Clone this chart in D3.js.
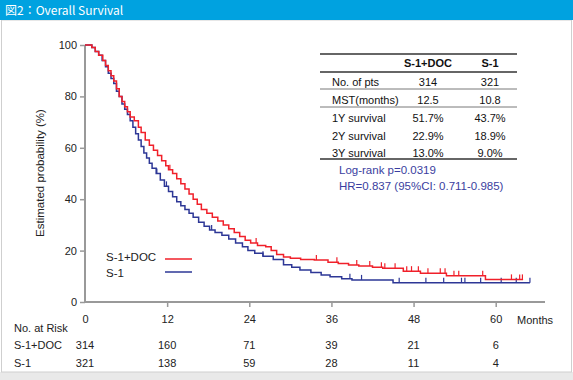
<!DOCTYPE html>
<html>
<head>
<meta charset="utf-8">
<script src="https://cdn.jsdelivr.net/npm/d3@7"></script>
<style>
  body { margin: 0; background: #fff; }
  svg { display: block; font-family: "Liberation Sans", Arial, sans-serif; }
</style>
</head>
<body>
<svg id="chart"></svg>
<script>
// Kaplan-Meier steps: [month, survival %]
var docSteps = [
  [0,100],[1.0,99],[1.5,97.5],[2.0,96],[2.6,94],[3.0,92],[3.4,90],[3.8,88],[4.2,86],
  [4.6,83],[5.0,80],[5.4,78],[5.8,76],[6.2,74],[6.6,72],[7.2,70.5],[7.8,68],[8.2,66],
  [8.8,63],[9.4,61],[10.0,59],[10.6,57],[11.2,55],[11.8,53],[12.2,51.5],[12.8,50],
  [13.4,48],[14.0,46],[14.6,44],[15.2,42],[15.8,40],[16.4,38],[17.0,36],[17.8,34.5],
  [18.6,33],[19.4,31.5],[20.2,30],[21.0,28.5],[21.8,27],[22.6,25.5],[23.4,24],[24.2,23],
  [25.2,22],[26.4,21.5],[27.2,20],[28.0,18.5],[29.0,17.5],[30.0,17],[31.5,16.5],
  [33.5,16.3],[35.5,15.5],[37.0,15],[38.5,14.4],[40.0,14],[42.0,13.5],[43.5,13.1],
  [46.5,12],[49.0,11.2],[52.8,10.2],[58.5,8.8],[64.0,8.8]
];
var s1Steps = [
  [0,100],[1.0,99],[1.5,97.5],[2.0,96],[2.5,94],[3.0,91.5],[3.4,89],[3.8,87],[4.2,85],
  [4.6,82],[5.0,80],[5.4,77],[5.8,75],[6.2,73],[6.6,70.5],[7.0,68],[7.4,65.5],[7.8,63],
  [8.2,60.5],[8.6,58],[9.0,56],[9.4,54],[9.8,52],[10.4,50],[11.0,47.5],[11.6,45],
  [12.2,43],[12.8,41],[13.4,39],[14.0,37.5],[14.6,36],[15.2,34.5],[15.8,33],[16.6,31],
  [17.4,29.5],[18.2,28],[19.0,27],[20.0,26],[21.0,24.5],[22.0,23],[23.0,21.5],[23.8,20],
  [24.8,19],[26.0,17.8],[27.5,16.5],[29.0,14.5],[30.2,13.5],[31.4,12.5],[33.0,11.5],
  [34.5,10.5],[35.8,9.8],[37.5,9],[39.0,8.6],[45.0,7.5],[65.0,7.5]
];
// censored observations (months)
var docCensor = [12.4,25,33.8,36.8,39.7,41.6,43.3,43.8,45.3,47,47.7,48.7,50.1,51.9,52.6,53.9,54.6,58.1,62.3,63.5,63.9];
var s1Censor = [10.5,11.9,18.5,26,38.7,40.4,45.9,49.8,52.4,55,55.5,57.8,60.8,63,65];

var xTicks = [0,12,24,36,48,60];
var yTicks = [0,20,40,60,80,100];

var riskDoc = [314,160,71,39,21,6];
var riskS1 = [321,138,59,28,11,4];

var tableLabels = ["No. of pts","MST(months)","1Y survival","2Y survival","3Y survival"];
var tableDoc = ["314","12.5","51.7%","22.9%","13.0%"];
var tableS1 = ["321","10.8","43.7%","18.9%","9.0%"];

var W = 573, H = 380;
var red = "#f0202a", blue = "#2d3796", grey = "#999";

var svg = d3.select("#chart").attr("width", W).attr("height", H);

// frame + title bar
svg.append("rect").attr("x", 0).attr("y", 372).attr("width", W).attr("height", 8).attr("fill", "#e9e9e9");
svg.append("rect").attr("x", 1.5).attr("y", 20).attr("width", 570).attr("height", 352)
  .attr("fill", "none").attr("stroke", "#cfcfcf");
svg.append("rect").attr("x", 0).attr("y", 0).attr("width", W).attr("height", 20).attr("fill", "#00a2e0");
svg.append("text").attr("x", 5).attr("y", 15).attr("fill", "#fff").attr("font-size", 12)
  .style("font-family", "'Noto Sans CJK JP', 'Liberation Sans', sans-serif")
  .text("図2：Overall Survival");

var x = d3.scaleLinear().domain([0, 67.2]).range([85, 545]);
var y = d3.scaleLinear().domain([0, 100]).range([302, 45]);

// axes
var yAxis = svg.append("g").attr("transform", "translate(" + x(0) + ",0)")
  .call(d3.axisLeft(y).tickValues(yTicks).tickSize(5).tickPadding(3));
var xAxis = svg.append("g").attr("transform", "translate(0," + y(0) + ")")
  .call(d3.axisBottom(x).tickValues(xTicks).tickSize(5).tickPadding(8));
[xAxis, yAxis].forEach(function(g) {
  g.select(".domain").attr("stroke", grey).attr("stroke-width", 2);
  g.selectAll(".tick line").attr("stroke", grey).attr("stroke-width", 1.5);
  g.selectAll(".tick text").attr("fill", "#222").attr("font-size", 11)
    .style("font-family", "'Liberation Sans', Arial, sans-serif");
});
xAxis.select(".domain").attr("d", "M" + x(0) + ",0H545");
yAxis.select(".domain").attr("d", "M0," + y(0) + "V" + y(100));
xAxis.selectAll(".tick").filter(function(d) { return d === 0; }).select("line").remove();

svg.append("text").attr("x", 517).attr("y", 324).attr("font-size", 11).attr("fill", "#222").text("Months");
svg.append("text").attr("transform", "translate(44," + 173 + ") rotate(-90)")
  .attr("text-anchor", "middle").attr("font-size", 11.5).attr("fill", "#222")
  .text("Estimated probability (%)");

// KM curves
var km = d3.line().x(function(d) { return x(d[0]); }).y(function(d) { return y(d[1]); })
  .curve(d3.curveStepAfter);

function survAt(steps, t) {
  var s = steps[0][1];
  steps.forEach(function(p) { if (p[0] <= t) s = p[1]; });
  return s;
}

function drawCurve(steps, censor, color) {
  svg.append("path").datum(steps).attr("d", km).attr("fill", "none")
    .attr("stroke", color).attr("stroke-width", 1.5);
  svg.selectAll(null).data(censor).enter().append("line")
    .attr("x1", function(d) { return x(d); }).attr("x2", function(d) { return x(d); })
    .attr("y1", function(d) { return y(survAt(steps, d)); })
    .attr("y2", function(d) { return y(survAt(steps, d)) - 5; })
    .attr("stroke", color).attr("stroke-width", 1.2);
}
drawCurve(s1Steps, s1Censor, blue);
drawCurve(docSteps, docCensor, red);

// legend
svg.append("text").attr("x", 106).attr("y", 261).attr("font-size", 11.5).attr("fill", "#222").text("S-1+DOC");
svg.append("text").attr("x", 106).attr("y", 277).attr("font-size", 11.5).attr("fill", "#222").text("S-1");
svg.append("line").attr("x1", 165).attr("x2", 192).attr("y1", 259).attr("y2", 259).attr("stroke", red).attr("stroke-width", 1.5);
svg.append("line").attr("x1", 165).attr("x2", 192).attr("y1", 272).attr("y2", 272).attr("stroke", blue).attr("stroke-width", 1.5);

// summary table
var tb = svg.append("g").attr("font-size", 11).attr("fill", "#111");
var colDoc = 428, colS1 = 490, labX = 332;
[54, 72, 159].forEach(function(ly) {
  tb.append("line").attr("x1", 320).attr("x2", 517).attr("y1", ly).attr("y2", ly)
    .attr("stroke", "#333").attr("stroke-width", 1.3);
});
[89, 107].forEach(function(ly) {
  tb.append("line").attr("x1", 320).attr("x2", 517).attr("y1", ly).attr("y2", ly)
    .attr("stroke", "#555").attr("stroke-width", 0.8);
});
tb.append("text").attr("x", colDoc).attr("y", 67).attr("text-anchor", "middle").attr("font-weight", "bold").text("S-1+DOC");
tb.append("text").attr("x", colS1).attr("y", 67).attr("text-anchor", "middle").attr("font-weight", "bold").text("S-1");
var rowY = [85.5, 104, 122, 140, 157];
tableLabels.forEach(function(lab, i) {
  tb.append("text").attr("x", labX).attr("y", rowY[i]).text(lab);
  tb.append("text").attr("x", colDoc).attr("y", rowY[i]).attr("text-anchor", "middle").text(tableDoc[i]);
  tb.append("text").attr("x", colS1).attr("y", rowY[i]).attr("text-anchor", "middle").text(tableS1[i]);
});
svg.append("text").attr("x", 339).attr("y", 173.5).attr("font-size", 11.5).attr("fill", "#3a3ea0").text("Log-rank p=0.0319");
svg.append("text").attr("x", 339).attr("y", 190).attr("font-size", 11.5).attr("fill", "#3a3ea0").text("HR=0.837 (95%CI: 0.711-0.985)");

// number at risk
var rk = svg.append("g").attr("font-size", 11).attr("fill", "#222");
rk.append("text").attr("x", 14).attr("y", 332).text("No. at Risk");
rk.append("text").attr("x", 14).attr("y", 349).text("S-1+DOC");
rk.append("text").attr("x", 14).attr("y", 367).text("S-1");
rk.selectAll(null).data(riskDoc).enter().append("text")
  .attr("x", function(d, i) { return x(xTicks[i]); }).attr("y", 349)
  .attr("text-anchor", "middle").text(function(d) { return d; });
rk.selectAll(null).data(riskS1).enter().append("text")
  .attr("x", function(d, i) { return x(xTicks[i]); }).attr("y", 367)
  .attr("text-anchor", "middle").text(function(d) { return d; });
</script>
</body>
</html>
